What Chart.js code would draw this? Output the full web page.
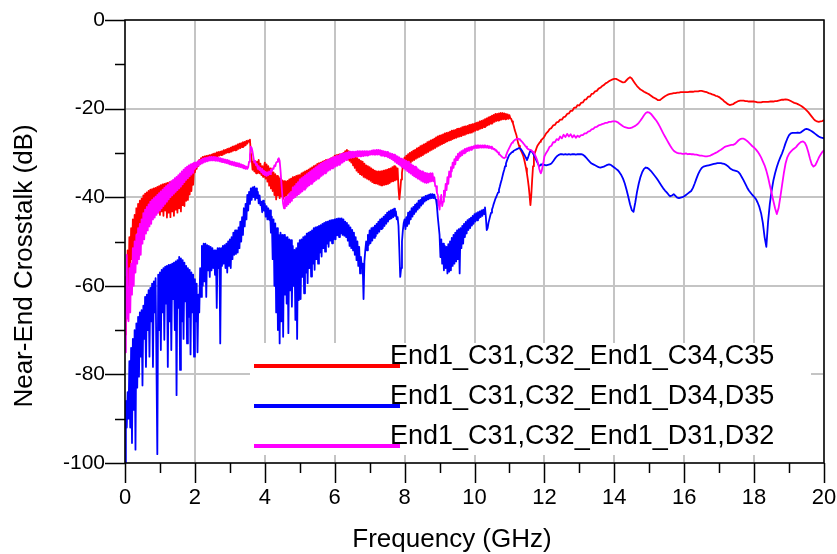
<!DOCTYPE html>
<html>
<head>
<meta charset="utf-8">
<script src="https://cdn.jsdelivr.net/npm/chart.js@4.4.1/dist/chart.umd.min.js"></script>
<style>
  html, body { margin: 0; padding: 0; background: #fff; }
  canvas { display: block; }
</style>
</head>
<body>
<canvas id="xtalk" width="837" height="554"></canvas>
<script>
'use strict';

// Sweep: 0 .. 11.975 GHz every 25 MHz, then 12 .. 20 GHz every 50 MHz
const FINE_STEP = 0.025;
const COARSE_START = 12;
const COARSE_STEP = 0.05;

const SERIES_LABELS = [
  'End1_C31,C32_End1_C34,C35',
  'End1_C31,C32_End1_D34,D35',
  'End1_C31,C32_End1_D31,D32'
];
const SERIES_COLORS = [ '#ff0000', '#0000ff', '#ff00ff' ];

const X_TICKS = [ 0, 2, 4, 6, 8, 10, 12, 14, 16, 18, 20 ];
const Y_TICKS = [ 0, -20, -40, -60, -80, -100 ];

const X_TITLE = 'Frequency (GHz)';
const Y_TITLE = 'Near-End Crosstalk (dB)';

// End1_C31,C32 -> End1_C34,C35 (dB), 0 .. 11.975 GHz, one row per 0.5 GHz
const c34c35Fine = [
  -71, -58, -64, -52, -60, -49, -57, -47, -54, -45, -52, -44, -50, -42.5, -48, -41.5, -47, -40.8, -46, -40.3,
  -45.5, -39.6, -45, -39.2, -44.6, -38.9, -44.2, -38.6, -44.5, -38.3, -43.8, -38.2, -44, -38, -43.5, -37.9, -43.7, -37.7, -43.4, -37.5,
  -44, -37.3, -43.2, -37.1, -44.2, -37, -43, -36.9, -44.6, -36.8, -43.5, -36.6, -44.5, -36.5, -43.2, -36.4, -44.2, -36.2, -42.8, -36,
  -43.5, -35.8, -42.5, -35.6, -43.2, -35.4, -41.8, -35.2, -42, -35, -40.8, -34.9, -40.6, -34.6, -39.4, -34.3, -38.6, -34, -37.2, -33.6,
  -34.4, -33, -33.6, -32.2, -33, -31.6, -32.5, -31.2, -32.2, -30.9, -31.9, -30.8, -31.7, -30.7, -31.6, -30.6, -31.4, -30.5, -31.3, -30.4,
  -31.1, -30.2, -31, -30.1, -30.9, -29.9, -30.8, -29.8, -30.6, -29.7, -30.5, -29.6, -30.4, -29.4, -30.2, -29.3, -30, -29.1, -29.9, -29,
  -29.8, -28.8, -29.7, -28.6, -29.5, -28.5, -29.4, -28.3, -29.3, -28.1, -29.1, -27.9, -28.9, -27.8, -28.7, -27.6, -28.5, -27.5, -28.3, -27.3,
  -27.9, -27.2, -27.5, -27, -30, -31.5, -33.8, -32, -34.2, -32.4, -34.6, -32, -34.5, -31.6, -34.6, -32.4, -35, -33, -35.4, -33.2,
  -32.2, -35.8, -32.6, -36.5, -33, -37.4, -33.5, -38, -34, -38.6, -34.4, -39.5, -34.8, -40.5, -35.2, -39.6, -35.5, -40.2, -35.8, -39.8,
  -36.2, -40.4, -36.4, -39.8, -36.5, -39.6, -36.3, -39.2, -36, -38.8, -35.8, -39, -35.5, -38.5, -35.4, -38.2, -35.2, -38, -35.1, -37.8,
  -35, -37.6, -34.6, -37.4, -34.4, -37, -34.2, -36.8, -34, -36.5, -33.8, -36.2, -33.5, -35.8, -33.3, -35.6, -33, -35.2, -32.8, -34.9,
  -32.5, -34.6, -32.3, -34.3, -32.2, -34, -32, -33.7, -31.8, -33.5, -31.6, -33.2, -31.5, -33, -31.4, -32.8, -31.2, -32.6, -31, -32.3,
  -30.6, -32, -30.5, -31.9, -30.4, -31.8, -30.3, -31.7, -30.2, -31.6, -30, -31.5, -29.6, -31.4, -29.3, -31.5, -29.6, -31.8, -29.8, -32.2,
  -30, -32.8, -30.4, -33.4, -30.8, -34, -31.2, -34.4, -31.5, -34.8, -31.8, -35, -32, -35.4, -32.4, -35.6, -32.8, -35.8, -33, -36,
  -33.2, -36.3, -33.5, -36.6, -33.8, -36.8, -34, -36.9, -34.2, -37, -34.2, -37.2, -34.2, -37.3, -34.1, -37.3, -34, -37.2, -33.9, -37.1,
  -33.8, -37, -33.6, -36.8, -33.5, -36.5, -33.2, -36.4, -33, -36.2, -33.2, -36, -33.5, -38, -40.5, -38.5, -36, -34.5, -33, -32,
  -31, -33.5, -30.6, -33, -30.3, -32.5, -30, -32.2, -29.8, -31.8, -29.5, -31.6, -29.3, -31.3, -29, -31.1, -28.8, -30.9, -28.5, -30.7,
  -28.3, -30.5, -28.1, -30.2, -27.9, -30, -27.6, -29.8, -27.4, -29.5, -27.2, -29.3, -27, -29.1, -26.8, -28.9, -26.5, -28.6, -26.3, -28.4,
  -26.1, -28.2, -26, -28, -25.8, -27.8, -25.6, -27.6, -25.5, -27.4, -25.4, -27.2, -25.2, -27.1, -25, -26.9, -24.9, -26.7, -24.8, -26.6,
  -24.6, -26.4, -24.5, -26.3, -24.4, -26.2, -24.2, -26, -24.1, -25.9, -24, -25.7, -23.9, -25.6, -23.7, -25.5, -23.6, -25.4, -23.5, -25.2,
  -23.4, -25, -23.2, -24.8, -23.1, -24.7, -22.9, -24.5, -22.8, -24.4, -22.6, -24.2, -22.4, -24, -22.2, -23.8, -22, -23.6, -21.8, -23.4,
  -21.6, -23.2, -21.4, -23, -21.2, -22.8, -21.2, -22.7, -21.1, -22.6, -21, -22.5, -21, -22.4, -21.1, -22.4, -21.2, -22.3, -21.3, -22.3,
  -21.5, -22.2, -22.3, -22.9, -23.3, -24, -24.8, -25.4, -26, -27, -27.8, -28.4, -29, -29.4, -29.8, -30.3, -30.8, -31.6, -32.5, -33.5,
  -34.6, -36, -37.5, -39.5, -41.8, -39.5, -36, -33, -30.8, -30, -29.5, -28.9, -28.4, -28.1, -27.8, -27.5, -27.2, -27, -26.8, -26.6
];
// 12 .. 20 GHz, one row per GHz
const c34c35Coarse = [
  -26.3, -25.6, -25.2, -24.6, -24.4, -23.8, -23.7, -23.1, -23, -22.5, -22.5, -21.9, -21.8, -21.2, -21.1, -20.5, -20.5, -19.8, -19.8, -19.2,
  -19.3, -18.7, -18.6, -18, -17.9, -17.3, -17.3, -16.7, -16.6, -16.1, -16, -15.5, -15.3, -14.9, -14.7, -14.3, -14.1, -13.8, -13.6, -13.4,
  -13.3, -13.3, -13.5, -13.7, -13.9, -14.1, -14, -13.6, -13.2, -12.9, -13.2, -13.8, -14.4, -14.9, -15.3, -15.7, -15.9, -16.2, -16.4, -16.6,
  -16.8, -17.1, -17.4, -17.6, -17.8, -18.1, -18.1, -17.8, -17.5, -17.2, -17, -16.8, -16.7, -16.6, -16.5, -16.5, -16.4, -16.4, -16.3, -16.3,
  -16.3, -16.3, -16.3, -16.2, -16.2, -16.2, -16.1, -16.1, -16.1, -16, -16, -16.1, -16.2, -16.3, -16.5, -16.6, -16.8, -16.9, -17.1, -17.2,
  -17.4, -17.7, -18, -18.4, -18.7, -19, -19.2, -19.1, -19, -18.7, -18.5, -18.3, -18.2, -18.2, -18.2, -18.3, -18.3, -18.4, -18.4, -18.4,
  -18.4, -18.5, -18.6, -18.6, -18.6, -18.5, -18.5, -18.5, -18.5, -18.4, -18.4, -18.4, -18.3, -18.3, -18.2, -18.1, -18, -18, -17.9, -18,
  -18.1, -18.3, -18.5, -18.7, -18.8, -19, -19.2, -19.4, -19.7, -20, -20.4, -20.8, -21.3, -21.8, -22.3, -22.7, -22.9, -23, -22.9, -22.8,
  -22.6
];

// End1_C31,C32 -> End1_D34,D35 (dB)
const d34d35Fine = [
  -100, -86, -92, -84, -90, -77, -92, -74, -95.5, -72, -88, -70, -97, -68.5, -83, -67, -80.5, -66, -76, -65.5,
  -82.5, -64.5, -72, -62.5, -78.3, -62, -70, -61, -76, -60.5, -68, -59.5, -78.3, -59, -66, -58.3, -77.5, -98, -57.5, -70,
  -57, -74.5, -56.4, -66, -56, -72.2, -55.7, -64, -55.5, -78.3, -55.3, -68, -55.2, -74.5, -55, -63, -54.8, -70, -54.5, -84.7,
  -54.2, -65, -53.5, -79, -53.8, -68, -54.2, -72, -54.8, -63.5, -55.5, -73, -56, -67, -56.4, -75.5, -57, -66, -57.5, -76,
  -58.5, -68, -59.5, -75, -62, -66, -56, -62.5, -51, -60, -50.5, -59, -50.5, -62.5, -50.8, -56.5, -51, -58, -51.2, -56.5,
  -51.5, -56, -52, -57.5, -52, -65, -51.5, -56, -51.5, -73, -51.5, -55.5, -51, -55, -50.8, -56, -50.5, -57, -50, -55.5,
  -49.5, -56, -49, -54, -48, -53, -47.5, -52.8, -47.5, -52.5, -46.8, -51.5, -45.5, -50, -44.5, -48.5, -42.5, -46.6, -41.5, -45,
  -39.5, -43, -38.8, -41.5, -38, -40.6, -37.8, -40, -37.6, -40.6, -38, -40.2, -38.8, -41.4, -39.6, -41.8, -41, -43.4, -40.8, -43,
  -41.5, -44.4, -42, -45, -42.5, -45.1, -43, -48, -44.4, -54, -45, -60, -45.9, -66, -47, -70, -48.5, -73, -48, -68,
  -48.5, -71.5, -48.5, -62, -49, -64, -49, -70.7, -49.5, -61, -49.7, -64.7, -51, -60, -51.9, -67.7, -51.5, -72, -50.4, -63.2,
  -49.7, -63, -49.5, -58, -49, -61.7, -48.8, -57, -48.2, -59.4, -48, -56, -47.8, -57.9, -47.5, -55, -47, -56.4, -46.8, -54,
  -46.7, -55, -46.5, -52.5, -46.3, -53.4, -46, -51.5, -45.8, -52.3, -45.6, -50.5, -45.5, -51.2, -45.3, -49.8, -45.2, -50.4, -45.1, -49.5,
  -45, -49.5, -44.9, -48.6, -44.8, -49, -44.8, -48.2, -44.8, -48.5, -45, -48.7, -45.5, -49, -45.8, -49.8, -46.3, -51, -46.8, -51.5,
  -47.4, -52, -48, -53, -49, -54.2, -50, -55.5, -51.2, -57.2, -53.5, -56, -55, -63, -54.5, -52, -50, -52, -48.5, -50.8,
  -47.5, -50.4, -47, -49.8, -46.8, -49.2, -46.4, -48.8, -46, -48.2, -45.5, -47.8, -45, -47.2, -44.8, -47, -44.4, -46.5, -44, -46,
  -43.5, -45.5, -43.2, -45, -43, -44.8, -42.8, -44.5, -42.6, -44.2, -43.2, -45, -44.5, -46.5, -52, -58, -56, -50, -47.5, -45.8,
  -45, -47.2, -44.5, -46.5, -43.5, -46, -43.2, -45, -42.5, -44.4, -42.2, -43.8, -41.7, -43.3, -41.4, -42.8, -40.8, -42.4, -40.6, -41.9,
  -40.1, -41.5, -40, -41, -39.7, -40.7, -39.6, -40.5, -39.4, -40.3, -39.3, -40.2, -39.3, -40.2, -39.4, -40.3, -40.6, -42, -44.5, -46.5,
  -48.5, -53.5, -49.5, -55, -50.5, -56.5, -51, -56, -51.2, -57.2, -50.6, -56.8, -50, -56.5, -49.2, -55.5, -48.5, -55, -48, -54.5,
  -47.5, -54, -47.2, -57.2, -47, -51.5, -46.5, -50.5, -46, -49, -45.6, -48.2, -45.2, -47.4, -44.9, -47, -44.6, -46.4, -44.2, -46,
  -43.8, -45.5, -43.6, -45.2, -43.4, -44.8, -43.2, -44.5, -43, -44.2, -42.8, -43.8, -42.3, -44.5, -47.4, -47, -45.8, -45, -44.2, -43.5,
  -42.8, -42.2, -41.5, -40.9, -40.3, -39.9, -39.4, -38.9, -38.3, -37.6, -36.8, -36.1, -35.3, -34.5, -33.8, -33, -32.4, -31.8, -31.3, -30.8,
  -30.4, -30.2, -30, -29.8, -29.7, -29.5, -29.4, -29.3, -29.2, -29.1, -29, -28.9, -28.9, -29.1, -29.4, -29.7, -30.1, -30.4, -30.8, -31.2,
  -31.6, -31.2, -30.6, -30, -29.5, -29.6, -29.8, -30.1, -30.5, -30.9, -31.3, -31.8, -32.2, -32.6, -33, -32.8, -32.6, -32.6, -32.6, -32.7
];
const d34d35Coarse = [
  -32.7, -32.8, -32.7, -32.6, -32.4, -31.9, -31.3, -30.8, -30.5, -30.3, -30.3, -30.4, -30.3, -30.4, -30.3, -30.4, -30.3, -30.3, -30.4, -30.3,
  -30.3, -30.3, -30.4, -30.7, -31.1, -31.6, -32, -32.4, -32.6, -32.8, -33, -33.2, -33.3, -33.2, -33.1, -32.9, -32.7, -32.6, -32.7, -33,
  -33.3, -33.6, -33.9, -34.4, -35, -35.8, -36.9, -38.3, -39.9, -41.6, -42.9, -43.3, -41.2, -38.8, -36.9, -35.4, -34.3, -33.6, -33.3, -33.4,
  -33.7, -34.1, -34.6, -35.1, -35.6, -36.2, -36.8, -37.4, -38, -38.5, -38.9, -39.4, -39.8, -39.6, -39.3, -39.7, -40.1, -40.2, -40.1, -40,
  -39.8, -39.5, -39.2, -38.9, -38.6, -37.9, -36.9, -35.8, -34.8, -34, -33.4, -33.1, -33, -32.9, -32.8, -32.7, -32.6, -32.5, -32.4, -32.3,
  -32.3, -32.3, -32.4, -32.5, -32.7, -33, -33.4, -33.7, -33.9, -34, -34.1, -34.3, -34.8, -35.5, -36.2, -37, -37.8, -38.5, -39, -39.5,
  -39.9, -40.4, -41.2, -42.2, -43.6, -45.8, -49, -51.2, -45.5, -41.5, -38.6, -36.3, -34.6, -33.2, -32, -31, -30.1, -29, -27.8, -26.8,
  -26, -25.6, -25.5, -25.5, -25.5, -25.4, -25.5, -25.3, -25, -24.7, -24.6, -24.7, -24.9, -25.1, -25.4, -25.7, -26, -26.3, -26.5, -26.6,
  -26.7
];

// End1_C31,C32 -> End1_D31,D32 (dB)
const d31d32Fine = [
  -75, -62, -53, -67, -68, -56, -66, -55, -62, -51.5, -60, -50, -57, -48.5, -55, -47, -54, -46, -53, -45,
  -50.5, -43.6, -49.5, -42.8, -48.2, -42.2, -47.5, -41.6, -46.6, -41, -46, -40.6, -45, -40.2, -44.6, -39.9, -44, -39.5, -43.5, -39.1,
  -43, -38.7, -42.5, -38.3, -42, -37.9, -41.5, -37.5, -41, -37.2, -40.5, -36.8, -40, -36.4, -39.6, -36.1, -39.2, -35.7, -38.8, -35.4,
  -38.4, -35, -38, -34.6, -37.6, -34.2, -37.1, -33.8, -36.6, -33.4, -36.1, -33.1, -35.7, -32.8, -35.3, -32.6, -34.9, -32.4, -34.5, -32.2,
  -33.6, -32.2, -33.2, -31.9, -32.9, -31.7, -32.6, -31.5, -32.4, -31.3, -32.2, -31.2, -32, -31.1, -31.9, -31, -31.8, -30.9, -31.7, -30.9,
  -31.7, -30.9, -31.7, -30.9, -31.8, -31, -31.8, -31.1, -31.9, -31.2, -32, -31.3, -32.1, -31.4, -32.2, -31.5, -32.3, -31.6, -32.4, -31.7,
  -32.6, -31.9, -32.7, -32, -32.8, -32.1, -32.9, -32.2, -33, -32.3, -33.1, -32.4, -33.2, -32.6, -33.3, -32.7, -33.5, -32.9, -33.6, -33.1,
  -33.6, -33.2, -32, -30.3, -28.6, -28.9, -29.8, -31, -32.2, -31.8, -32.8, -32.5, -33.6, -33, -33.9, -33.4, -34.4, -33.6, -34.8, -34,
  -35, -34.3, -35.2, -34.4, -35, -34.2, -34.8, -33.8, -34.2, -33.5, -33.6, -32.8, -33, -32.2, -32, -31.5, -31.2, -31.8, -34, -36.8,
  -39.5, -41.5, -42.5, -40.5, -40, -42, -39.8, -41.6, -39.2, -41.2, -38.8, -40.8, -37.8, -40.2, -37.5, -40, -37, -39.6, -36.6, -39.3,
  -36, -39, -35.7, -38.7, -35.4, -38.3, -35.1, -38, -34.8, -37.6, -34.5, -37.3, -34.2, -37, -33.9, -36.7, -33.6, -36.4, -33.3, -36.1,
  -33, -35.8, -32.7, -35.5, -32.4, -35.2, -32.2, -34.9, -32, -34.6, -31.8, -34.3, -31.6, -34, -31.4, -33.8, -31.2, -33.5, -31, -33.3,
  -30.9, -33.1, -30.7, -32.9, -30.6, -32.7, -30.4, -32.4, -30.2, -32.2, -30.1, -31.9, -30, -31.6, -29.9, -31.4, -29.8, -31.2, -29.7, -31.1,
  -29.7, -31, -29.7, -30.9, -29.7, -30.8, -29.6, -30.8, -29.6, -30.8, -29.6, -30.7, -29.6, -30.7, -29.6, -30.6, -29.6, -30.6, -29.6, -30.5,
  -29.6, -30.4, -29.5, -30.4, -29.4, -30.4, -29.4, -30.4, -29.3, -30.4, -29.3, -30.4, -29.4, -30.6, -29.5, -30.6, -29.6, -30.8, -29.7, -30.8,
  -29.8, -31, -30, -31.2, -30.1, -31.4, -30.2, -31.7, -30.4, -32, -30.6, -32.3, -30.8, -32.6, -31, -32.9, -31.3, -33.2, -31.5, -33.5,
  -31.6, -33.8, -31.8, -34.1, -32, -34.4, -32.3, -34.7, -32.6, -35, -32.9, -35.3, -33.1, -35.5, -33.4, -35.8, -33.7, -36, -34, -36.3,
  -34.2, -36.5, -34.4, -36.7, -34.5, -36.8, -34.6, -36.7, -34.7, -36.5, -34.6, -36.4, -34.6, -36.4, -35.5, -37.5, -37.5, -39, -39.5, -41.5,
  -42.8, -40.5, -39.5, -42, -41, -38.5, -39.8, -37, -38.4, -35.5, -37, -34.2, -35.4, -33.2, -34.2, -32.2, -33.4, -31.4, -32.6, -30.8,
  -31.6, -30.2, -31.2, -29.9, -30.8, -29.6, -30.5, -29.4, -30.1, -29.1, -29.9, -29, -29.6, -28.8, -29.5, -28.7, -29.3, -28.6, -29.1, -28.5,
  -28.9, -28.3, -28.9, -28.3, -28.9, -28.3, -28.8, -28.3, -28.8, -28.3, -28.8, -28.3, -28.8, -28.4, -28.8, -28.4, -28.9, -28.5, -28.9, -28.6,
  -29.1, -28.9, -29.2, -29.1, -29.5, -29.4, -29.8, -29.9, -30.3, -30.4, -30.6, -30.8, -31, -31.1, -31.2, -31, -30.6, -30.1, -29.6, -29.2,
  -28.8, -28.4, -28, -27.7, -27.5, -27.3, -27.1, -27, -26.9, -26.8, -26.8, -26.9, -27, -27.2, -27.4, -27.6, -27.9, -28.1, -28.4, -28.6,
  -28.9, -29.1, -29.2, -29.3, -29.3, -29.4, -29.6, -29.8, -30, -30.4, -30.8, -31.3, -31.8, -32.6, -33.5, -34.2, -34.6, -34, -33, -32
];
const d31d32Coarse = [
  -30.8, -30, -29.4, -28.6, -28.4, -27.6, -27.6, -26.9, -27.1, -26.3, -26.7, -25.9, -26.4, -25.7, -26.3, -25.8, -26.5, -26, -26.6, -26.1,
  -26.4, -26, -26, -25.6, -25.6, -25.2, -25.1, -24.7, -24.6, -24.2, -24.1, -23.8, -23.7, -23.5, -23.4, -23.2, -23.2, -23, -23, -22.9,
  -22.9, -22.9, -23.1, -23.4, -23.7, -24, -24.2, -24.3, -24.4, -24.4, -24.3, -24.1, -23.9, -23.6, -23.2, -22.7, -22.1, -21.5, -21, -20.8,
  -20.9, -21.2, -21.7, -22.2, -22.7, -23.3, -24, -24.8, -25.6, -26.3, -27, -27.7, -28.4, -29, -29.5, -29.8, -30, -30.1, -30.1, -30.2,
  -30.2, -30.1, -30.3, -30.2, -30.3, -30.3, -30.4, -30.4, -30.5, -30.6, -30.6, -30.7, -30.8, -30.8, -30.7, -30.6, -30.4, -30.2, -30, -29.8,
  -29.5, -29.3, -29, -28.7, -28.5, -28.4, -28.3, -28.2, -28.2, -28, -27.6, -27.2, -26.9, -26.8, -26.8, -27, -27.3, -27.7, -28.1, -28.5,
  -28.8, -29.2, -29.7, -30.3, -31, -31.9, -32.8, -34, -35.5, -37.3, -39, -40.8, -42.5, -43.8, -42.5, -40, -37.3, -34.6, -32.4, -31,
  -30.2, -29.7, -29.3, -29, -28.7, -28.2, -27.8, -27.5, -27.4, -27.7, -28.5, -29.8, -31.3, -32.6, -33.1, -32.8, -32, -31.1, -30.4, -29.8,
  -29.4
];

const FONT = "'Liberation Sans', Arial, sans-serif";
const GRID_COLOR = '#c4c4c4';

function toPoints(fine, coarse) {
  const pts = fine.map((v, i) => ({ x: +(i * FINE_STEP).toFixed(3), y: v }));
  coarse.forEach((v, i) => pts.push({ x: +(COARSE_START + i * COARSE_STEP).toFixed(3), y: v }));
  return pts;
}

// Axes frame, outward tick marks (major + minor), axis titles and the in-plot legend
const framePlugin = {
  id: 'frame',
  beforeDatasetsDraw(chart) {
    const ctx = chart.ctx;
    const sets = chart.data.datasets;

    ctx.save();
    ctx.fillStyle = '#ffffff';
    ctx.fillRect(250, 343, 561, 112);

    ctx.font = '27px ' + FONT;
    ctx.textBaseline = 'alphabetic';
    ctx.textAlign = 'left';
    for(let i = 0; i < sets.length; i++) {
      const rowY = 366 + i * 40;
      ctx.strokeStyle = sets[i].borderColor;
      ctx.lineWidth = 4;
      ctx.beginPath();
      ctx.moveTo(254, rowY);
      ctx.lineTo(400, rowY);
      ctx.stroke();
      ctx.fillStyle = '#000';
      ctx.fillText(sets[i].label, 390, rowY - 2);
    }
    ctx.restore();
  },
  afterDraw(chart) {
    const ctx = chart.ctx;
    const area = chart.chartArea;
    const xs = chart.scales.x;
    const ys = chart.scales.y;

    ctx.save();
    ctx.strokeStyle = '#000';
    ctx.lineWidth = 1.5;
    ctx.beginPath();
    for(let v = -100; v <= 0; v += 10) {
      const py = Math.round(ys.getPixelForValue(v)) + 0.5;
      const len = v % 20 === 0 ? 20 : 10;
      ctx.moveTo(area.left - len, py);
      ctx.lineTo(area.left, py);
    }
    for(let v = 0; v <= 20; v += 1) {
      const px = Math.round(xs.getPixelForValue(v)) + 0.5;
      const len = v % 2 === 0 ? 20 : 10;
      ctx.moveTo(px, area.bottom);
      ctx.lineTo(px, area.bottom + len);
    }
    ctx.stroke();
    ctx.strokeRect(area.left, area.top, area.right - area.left, area.bottom - area.top);

    ctx.fillStyle = '#000';
    ctx.font = '26px ' + FONT;
    ctx.textAlign = 'center';
    ctx.textBaseline = 'middle';
    ctx.fillText(X_TITLE, 452, 540);
    ctx.translate(25, 266);
    ctx.rotate(-Math.PI / 2);
    ctx.fillText(Y_TITLE, 0, 0);
    ctx.restore();
  }
};

const seriesData = [
  [ c34c35Fine, c34c35Coarse ],
  [ d34d35Fine, d34d35Coarse ],
  [ d31d32Fine, d31d32Coarse ]
];

const datasets = seriesData.map((parts, i) => ({
  label: SERIES_LABELS[i],
  data: toPoints(parts[0], parts[1]),
  borderColor: SERIES_COLORS[i],
  borderWidth: 1.8,
  borderJoinStyle: 'round',
  pointRadius: 0,
  tension: 0,
  fill: false,
  order: 3 - i
}));

new Chart(document.getElementById('xtalk'), {
  type: 'line',
  data: { datasets: datasets },
  plugins: [ framePlugin ],
  options: {
    responsive: false,
    animation: false,
    devicePixelRatio: 1,
    events: [],
    layout: { padding: { top: 20, right: 13, left: 0, bottom: 0 } },
    plugins: {
      legend: { display: false },
      tooltip: { enabled: false }
    },
    scales: {
      x: {
        type: 'linear',
        min: 0,
        max: 20,
        afterFit(scale) {
          scale.height = 91;
          scale.paddingLeft = 0;
          scale.paddingRight = 0;
        },
        border: { display: false },
        grid: {
          drawTicks: false,
          lineWidth: 2,
          color: (c) => X_TICKS.includes(c.tick.value) ? GRID_COLOR : 'rgba(0,0,0,0)'
        },
        ticks: {
          stepSize: 1,
          autoSkip: false,
          maxRotation: 0,
          padding: 22,
          color: '#000',
          font: { family: FONT, size: 22 },
          callback: (v) => X_TICKS.includes(v) ? String(v) : ''
        }
      },
      y: {
        min: -100,
        max: 0,
        afterFit(scale) {
          scale.width = 125;
          scale.paddingTop = 0;
          scale.paddingBottom = 0;
        },
        border: { display: false },
        grid: {
          drawTicks: false,
          lineWidth: 2,
          color: (c) => Y_TICKS.includes(c.tick.value) ? GRID_COLOR : 'rgba(0,0,0,0)'
        },
        ticks: {
          stepSize: 10,
          autoSkip: false,
          padding: 20,
          color: '#000',
          font: { family: FONT, size: 21 },
          callback: (v) => Y_TICKS.includes(v) ? String(v) : ''
        }
      }
    }
  }
});
</script>
</body>
</html>
